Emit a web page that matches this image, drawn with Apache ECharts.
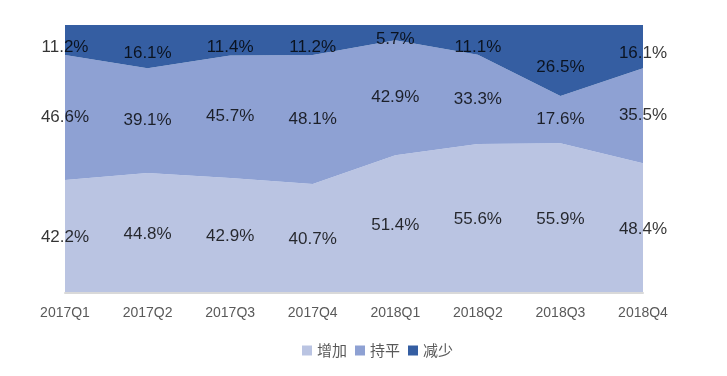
<!DOCTYPE html>
<html>
<head>
<meta charset="utf-8">
<script src="https://cdn.jsdelivr.net/npm/echarts@6/dist/echarts.min.js"></script>
<style>
  html, body { margin: 0; padding: 0; background: #fff; }
  #chart { width: 727px; height: 376px; }
</style>
</head>
<body>
<div id="chart"></div>
<script>
const quarters = ["2017Q1", "2017Q2", "2017Q3", "2017Q4", "2018Q1", "2018Q2", "2018Q3", "2018Q4"];
const zengjia = [42.2, 44.8, 42.9, 40.7, 51.4, 55.6, 55.9, 48.4];
const chiping = [46.6, 39.1, 45.7, 48.1, 42.9, 33.3, 17.6, 35.5];
const jianshao = [11.2, 16.1, 11.4, 11.2, 5.7, 11.1, 26.5, 16.1];

const colors = ["#bac4e2", "#8ea1d3", "#355ea2"];

// label positions: middle of each stacked band
const midZ = zengjia.map(v => v / 2);
const midC = chiping.map((v, i) => zengjia[i] + v / 2);
const midJ = jianshao.map((v, i) => zengjia[i] + chiping[i] + v / 2);

function areaSeries(name, data, color) {
  return {
    name: name,
    type: "line",
    stack: "total",
    data: data,
    symbol: "none",
    lineStyle: { width: 0 },
    areaStyle: { color: color, opacity: 1 },
    itemStyle: { color: color },
    silent: true
  };
}

function labelSeries(mids, raw, dy) {
  return {
    type: "scatter",
    data: mids,
    symbolSize: 1,
    itemStyle: { color: "rgba(0,0,0,0)" },
    silent: true,
    z: 10,
    label: {
      show: true,
      position: "inside",
      offset: [0, dy],
      formatter: p => raw[p.dataIndex].toFixed(1) + "%",
      color: "#000",
      fontSize: 17,
      fontFamily: "Liberation Sans"
    }
  };
}

const chart = echarts.init(document.getElementById("chart"));

chart.setOption({
  animation: false,
  color: colors,
  grid: { left: 65, right: 84, top: 25, bottom: 83 },
  legend: {
    data: ["增加", "持平", "减少"],
    left: 297,
    top: 338,
    icon: "rect",
    itemWidth: 10,
    itemHeight: 10,
    itemGap: 8,
    textStyle: { color: "#595959", fontSize: 15, fontFamily: "Noto Sans CJK SC" }
  },
  xAxis: {
    type: "category",
    data: quarters,
    boundaryGap: false,
    axisLine: { lineStyle: { color: "#d9d9d9", width: 2 } },
    axisTick: { show: false },
    axisLabel: { color: "#595959", fontSize: 14, margin: 13, fontFamily: "Liberation Sans" },
    z: 5
  },
  yAxis: {
    type: "value",
    min: 0,
    max: 100,
    show: false,
    splitLine: { show: false }
  },
  series: [
    areaSeries("增加", zengjia, colors[0]),
    areaSeries("持平", chiping, colors[1]),
    areaSeries("减少", jianshao, colors[2]),
    labelSeries(midZ, zengjia, 1),
    labelSeries(midC, chiping, 0),
    labelSeries(midJ, jianshao, 7)
  ]
});
</script>
</body>
</html>
